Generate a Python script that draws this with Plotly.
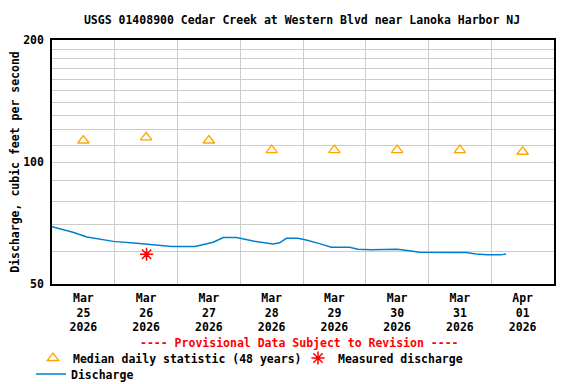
import plotly.graph_objects as go

title_text = "USGS 01408900 Cedar Creek at Western Blvd near Lanoka Harbor NJ"
y_title = "Discharge, cubic feet per second"

# Discharge (instantaneous) time series
discharge_times = [
    "2026-03-25 00:00", "2026-03-25 08:00", "2026-03-25 13:20", "2026-03-25 23:30",
    "2026-03-26 08:25", "2026-03-26 17:20", "2026-03-26 21:45", "2026-03-27 06:40",
    "2026-03-27 13:40", "2026-03-27 17:30", "2026-03-27 22:35", "2026-03-28 04:55",
    "2026-03-28 12:30", "2026-03-28 15:05", "2026-03-28 17:40", "2026-03-28 22:05",
    "2026-03-29 01:15", "2026-03-29 06:20", "2026-03-29 10:50", "2026-03-29 17:50",
    "2026-03-29 21:00", "2026-03-30 02:05", "2026-03-30 11:00", "2026-03-30 12:00",
    "2026-03-30 17:20", "2026-03-30 20:30", "2026-03-31 08:35", "2026-03-31 11:00",
    "2026-03-31 14:20", "2026-03-31 18:10", "2026-03-31 22:35", "2026-04-01 03:40",
    "2026-04-01 05:40",
]
discharge_values = [
    69.2, 67.1, 65.3, 63.7,
    63.0, 62.4, 61.9, 61.9,
    63.4, 65.1, 65.1, 63.8,
    62.8, 63.2, 64.8, 64.8,
    64.2, 62.9, 61.6, 61.6,
    60.9, 60.7, 60.7, 60.9,
    60.3, 59.9, 59.8, 59.9,
    59.8, 59.3, 59.0, 59.0,
    59.3,
]

# Median daily statistic (48 years)
median_dates = ["2026-03-25 12:00", "2026-03-26 12:00", "2026-03-27 12:00", "2026-03-28 12:00",
                "2026-03-29 12:00", "2026-03-30 12:00", "2026-03-31 12:00", "2026-04-01 12:00"]
median_values = [113, 115, 113, 107, 107, 107, 107, 106]

# Measured discharge
measured_dates = ["2026-03-26 12:10"]
measured_values = [59.2]

# Axis ticks
x_tick_vals = median_dates
x_tick_text = ["Mar<br>25<br>2026", "Mar<br>26<br>2026", "Mar<br>27<br>2026", "Mar<br>28<br>2026",
               "Mar<br>29<br>2026", "Mar<br>30<br>2026", "Mar<br>31<br>2026", "Apr<br>01<br>2026"]
y_tick_vals = [50, 60, 70, 80, 90, 100, 110, 120, 130, 140, 150, 160, 170, 180, 190, 200]
y_tick_text = ["50", "", "", "", "", "100", "", "", "", "", "", "", "", "", "", "200"]

FONT = "DejaVu Sans Mono"
fnt = dict(family=FONT, size=11.5, color="black", weight="bold")

W, H = 560, 376  # page body has an 8px margin inside the 576x384 window

fig = go.Figure()
fig.add_trace(go.Scatter(
    x=median_dates, y=median_values, mode="markers", name="Median daily statistic (48 years)",
    marker=dict(symbol="triangle-up-open", size=10, color="#FFA500", line=dict(width=1.3, color="#FFA500")),
    legend="legend",
))
fig.add_trace(go.Scatter(
    x=measured_dates, y=measured_values, mode="markers", name="Measured discharge",
    marker=dict(symbol="asterisk-open", size=11, color="red", line=dict(width=1.5, color="red")),
    legend="legend2",
))
fig.add_trace(go.Scatter(
    x=discharge_times, y=discharge_values, mode="lines", name="Discharge",
    line=dict(color="#0080CC", width=1.5, shape="linear"),
    legend="legend3",
))

leg_common = dict(orientation="h", xref="container", yref="container", xanchor="left",
                  yanchor="middle", font=fnt, bgcolor="rgba(0,0,0,0)", itemwidth=30)

fig.update_layout(
    width=W, height=H,
    margin=dict(l=44, r=14, t=32, b=H - 32 - 244, autoexpand=False),
    paper_bgcolor="white", plot_bgcolor="white",
    font=fnt,
    title=dict(text=title_text, x=294 / W, xanchor="center", y=1 - 12 / H, yanchor="middle",
               font=dict(family=FONT, size=11.5, color="black", weight="bold")),
    legend=dict(x=25 / W, y=1 - 350 / H, **leg_common),
    legend2=dict(x=290 / W, y=1 - 350 / H, **leg_common),
    legend3=dict(x=23 / W, y=1 - 366 / H, **leg_common),
    showlegend=True,
)

fig.update_xaxes(
    type="date", automargin=False,
    range=["2026-03-25 00:00", "2026-04-02 00:00"],
    tickmode="array", tickvals=x_tick_vals, ticktext=x_tick_text,
    showgrid=False, ticks="", tickfont=fnt, ticklabelstandoff=2,
    minor=dict(dtick=86400000, tick0="2026-03-25", showgrid=True, gridcolor="#cccccc", gridwidth=1, ticks=""),
    showline=True, linecolor="black", linewidth=1.5, mirror=True,
    zeroline=False,
)
fig.update_yaxes(
    type="log", automargin=False,
    range=[1.69897, 2.30103],
    tickmode="array", tickvals=y_tick_vals, ticktext=y_tick_text,
    showgrid=True, gridcolor="#cccccc", gridwidth=1, ticks="", tickfont=fnt,
    ticklabelstandoff=4,
    title=dict(text=y_title, font=fnt, standoff=7),
    showline=True, linecolor="black", linewidth=1.5, mirror=True,
    zeroline=False,
)

fig.add_annotation(
    text="---- Provisional Data Subject to Revision ----",
    xref="paper", yref="paper", x=0.494, y=(276 - 335) / 244, xanchor="center", yanchor="middle",
    showarrow=False, font=dict(family=FONT, size=11.5, color="red", weight="bold"),
)

fig.write_html("out.html")
